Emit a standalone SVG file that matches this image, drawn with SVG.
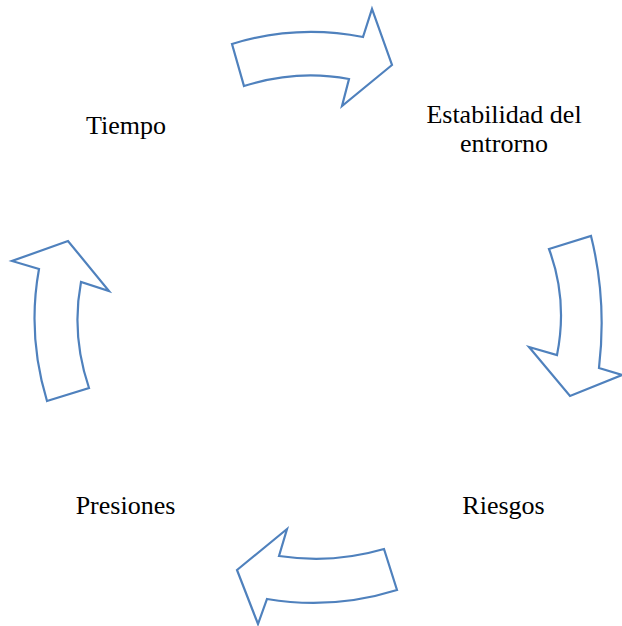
<svg xmlns="http://www.w3.org/2000/svg" width="622" height="626" viewBox="0 0 622 626">
<style>
.arrow{fill:#ffffff;stroke:#4f81bd;stroke-width:2.2;stroke-linejoin:miter}
.lbl{font-family:"Liberation Serif","Times New Roman",serif;font-size:26px;fill:#000000;text-anchor:middle}
</style>
<rect width="622" height="626" fill="#ffffff"/>
<g id="connectors">
<path id="arrow-top" class="arrow" d="M232,44 Q296.5,24 363,37 L372,9 L392,65 L342,106 L349,79 Q297.5,69 244,86 Z"/>
<path id="arrow-right" class="arrow" d="M549,249 L591,236 Q607,300 599,368 L622,375 L570,396 L529,347 L557,355 Q568,300 549,249 Z"/>
<path id="arrow-bottom" class="arrow" d="M384,549 L397,590 Q333,610 267,599 L258,624 L237,570 L287,529 L279,556 Q333,564 384,549 Z"/>
<path id="arrow-left" class="arrow" d="M47,401 L89,388 Q71,335 81,282 L109,291 L68,241 L12,261 L39,269 Q27,335 47,401 Z"/>
</g>
<g id="node-tiempo"><text class="lbl" x="126" y="134">Tiempo</text></g>
<g id="node-estabilidad"><text class="lbl" x="504" y="123">Estabilidad del</text><text class="lbl" x="504" y="151.5">entrorno</text></g>
<g id="node-riesgos"><text class="lbl" x="503.5" y="514">Riesgos</text></g>
<g id="node-presiones"><text class="lbl" x="125.5" y="514">Presiones</text></g>
</svg>
